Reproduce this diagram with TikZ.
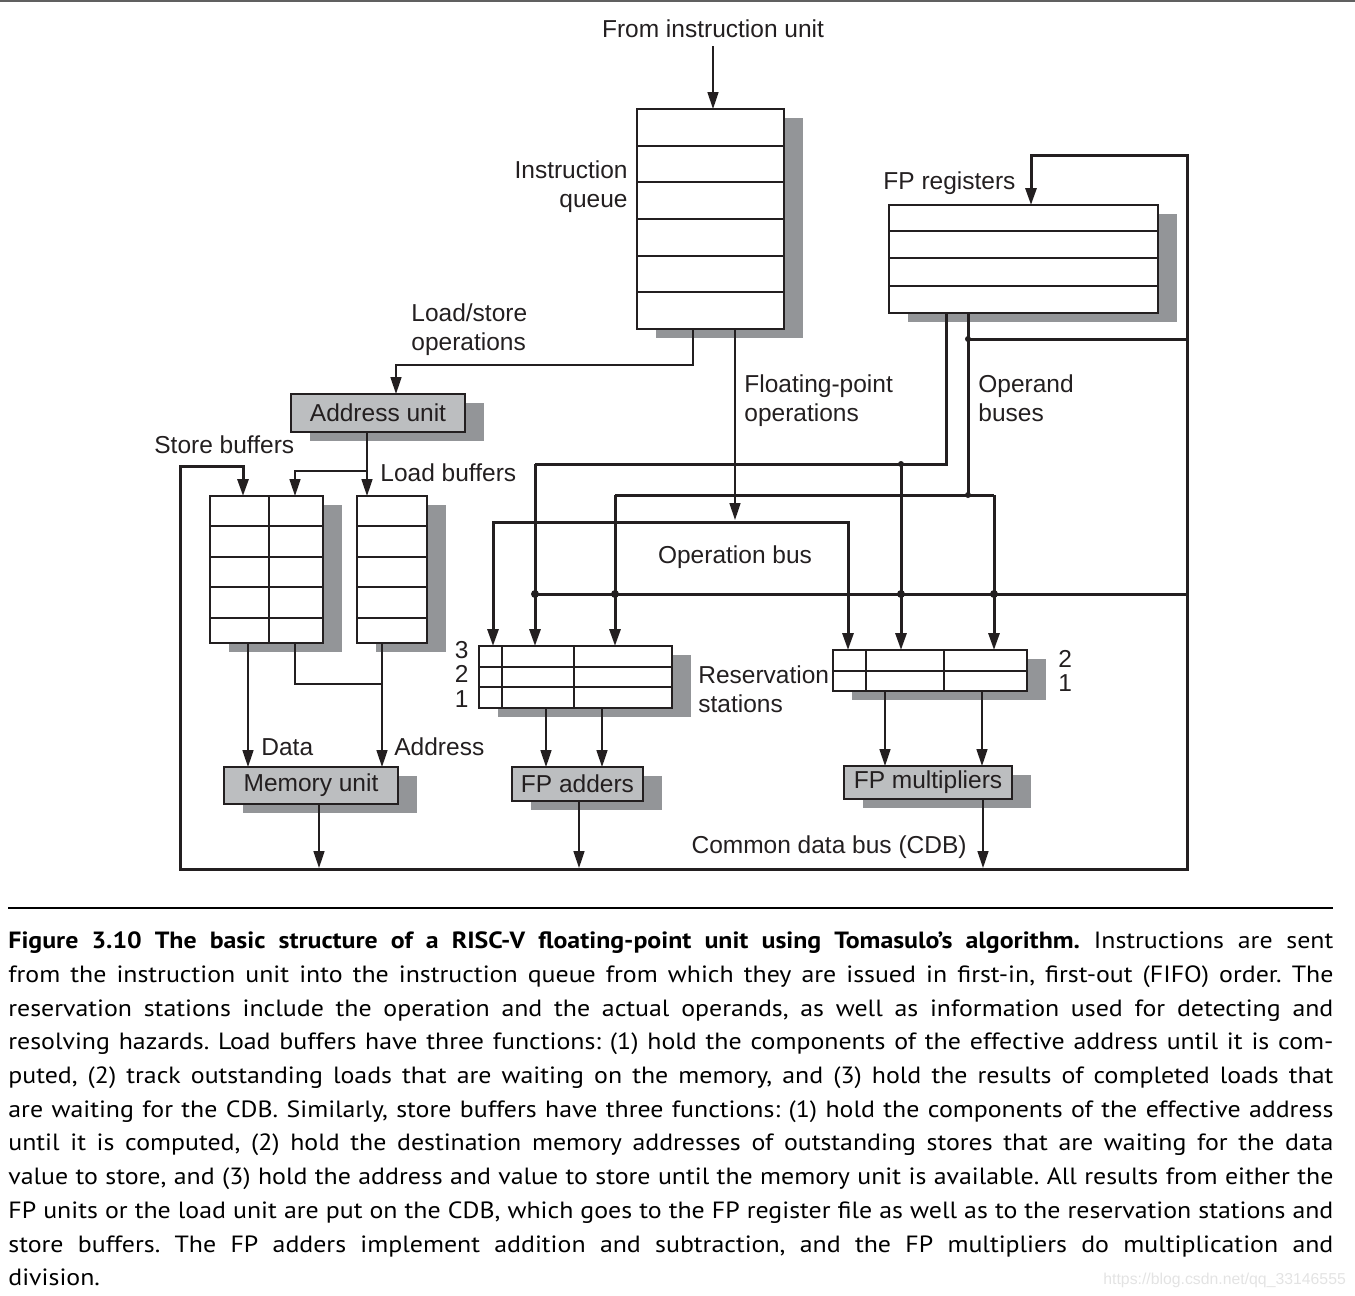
\documentclass[tikz,border=0pt]{standalone}
\usepackage{fontspec}
\setmainfont{Liberation Sans}
\newfontfamily\capfont[FakeStretch=1.1]{PT Sans}
\usetikzlibrary{arrows.meta,shadows}
\definecolor{ink}{HTML}{231F20}
\definecolor{shade}{HTML}{939598}
\definecolor{unitgray}{HTML}{BCBEC0}
\tikzset{
  tbl/.style={draw=ink, line width=0.9pt, fill=white, inner sep=0pt, outer sep=0pt, anchor=north west,
    drop shadow={opacity=1, fill=shade, shadow xshift=9.25pt, shadow yshift=-4.5pt}},
  unit/.style={tbl, fill=unitgray, font=\fontsize{12.25pt}{14pt}\selectfont, text=ink},
  cell/.style={draw=ink, line width=0.75pt},
  bus/.style={draw=ink, line width=1.5pt},
  wire/.style={draw=ink, line width=0.75pt},
  arr/.style={-{Triangle[length=8.5pt,width=5.5pt]}},
  lbl/.style={font=\fontsize{12.25pt}{14pt}\selectfont, text=ink, inner sep=0pt},
  jdot/.style={circle, fill=ink, inner sep=0pt, minimum size=3pt},
  bigdot/.style={circle, fill=ink, inner sep=0pt, minimum size=4pt}
}
\begin{document}
\begin{tikzpicture}[x=0.5pt, y=-0.5pt]
\useasboundingbox (0,0) rectangle (1355,1296);
\draw[line width=1pt, draw=gray!75!black] (0,1) -- (1355,1);

% ---------- boxes ----------
\node[tbl, minimum width=73.5pt, minimum height=110pt] (iq) at (637,109) {};
\foreach \r in {146,182,219,256,292} \draw[cell] (637,\r) -- (784,\r);

\node[tbl, minimum width=134.5pt, minimum height=54pt] (fpr) at (889,205) {};
\foreach \r in {231,258,286} \draw[cell] (889,\r) -- (1158,\r);

\node[unit, minimum width=87pt, minimum height=19pt] (addr) at (291,394) {Address unit};

\node[tbl, minimum width=56.5pt, minimum height=73.5pt] (sb) at (210,496) {};
\foreach \r in {526,557,587,618} \draw[cell] (210,\r) -- (323,\r);
\draw[cell] (269,496) -- (269,643);

\node[tbl, minimum width=35pt, minimum height=73.5pt] (lb) at (357,496) {};
\foreach \r in {526,557,587,618} \draw[cell] (357,\r) -- (427,\r);

\node[tbl, minimum width=96.5pt, minimum height=31pt] (rsa) at (479,646) {};
\foreach \r in {667,687} \draw[cell] (479,\r) -- (672,\r);
\foreach \c in {502,574} \draw[cell] (\c,646) -- (\c,708);

\node[tbl, minimum width=97pt, minimum height=20.5pt] (rsm) at (833,650) {};
\draw[cell] (833,671) -- (1027,671);
\foreach \c in {866,944} \draw[cell] (\c,650) -- (\c,691);

\node[unit, minimum width=87pt, minimum height=18.5pt] (mem) at (224,767) {Memory unit};
\node[unit, minimum width=65.5pt, minimum height=17pt] (fpa) at (512,767) {FP adders};
\node[unit, minimum width=84pt, minimum height=16.5pt] (fpm) at (844,766) {FP multipliers};

% ---------- labels ----------
\node[lbl, anchor=base] (tfrom) at (713,37) {From instruction unit};
\node[lbl, anchor=base east] (tiq1) at (628,178) {Instruction};
\node[lbl, anchor=base east] (tiq2) at (628,207) {queue};
\node[lbl, anchor=base west] (tls1) at (411,321) {Load/store};
\node[lbl, anchor=base west] (tls2) at (411,350) {operations};
\node[lbl, anchor=base west] (tfp1) at (744,392) {Floating-point};
\node[lbl, anchor=base west] (tfp2) at (744,421) {operations};
\node[lbl, anchor=base west] (top1) at (978,392) {Operand};
\node[lbl, anchor=base west] (top2) at (978,421) {buses};
\node[lbl, anchor=base west] (tfpr) at (883,189) {FP registers};
\node[lbl, anchor=base west] (tsb) at (154,453) {Store buffers};
\node[lbl, anchor=base west] (tlb) at (380,481) {Load buffers};
\node[lbl, anchor=base] (tob) at (735,563) {Operation bus};
\node[lbl, anchor=base west] (trs1) at (698,683) {Reservation};
\node[lbl, anchor=base west] (trs2) at (698,712) {stations};
\node[lbl, anchor=base east] (ta3) at (469,658) {3};
\node[lbl, anchor=base east] (ta2) at (469,682) {2};
\node[lbl, anchor=base east] (ta1) at (469,707) {1};
\node[lbl, anchor=base west] (tm2) at (1058,667) {2};
\node[lbl, anchor=base west] (tm1) at (1058,691) {1};
\node[lbl, anchor=base west] (tdata) at (261,755) {Data};
\node[lbl, anchor=base west] (taddr) at (394,755) {Address};
\node[lbl, anchor=base east] (tcdb) at (967,853) {Common data bus (CDB)};

% ---------- coordinates ----------
\coordinate (iuout) at (713,46);
\coordinate (ls1) at (693,365);
\coordinate (ls2) at (396,365);
\coordinate (fpo) at (735,520);
\coordinate (ob1) at (493,522);
\coordinate (ob2) at (848,522);
\coordinate (b1a) at (946,464);
\coordinate (b1b) at (535,464);
\coordinate (b1j) at (901,464);
\coordinate (b2a) at (968,495);
\coordinate (b2l) at (615,495);
\coordinate (b2r) at (994,495);
\coordinate (cdbA) at (968,339);
\coordinate (cdbAR) at (1187,339);
\coordinate (cdbB) at (535,594);
\coordinate (cdbBR) at (1187,594);
\coordinate (cdbL) at (180,869);
\coordinate (cdbR) at (1187,869);
\coordinate (cdbTR) at (1187,155);
\coordinate (cdbFP) at (1031,155);
\coordinate (cdbS1) at (180,466);
\coordinate (cdbS2) at (243,466);
\coordinate (au1) at (367,471);
\coordinate (au2) at (295,471);
\coordinate (sbd) at (248,700);
\coordinate (sba) at (295,684);
\coordinate (lba) at (382,684);
\coordinate (ra1) at (546,740);
\coordinate (ra2) at (602,740);
\coordinate (rm1) at (885,740);
\coordinate (rm2) at (982,740);
\coordinate (memo) at (319,868);
\coordinate (fpao) at (579,868);
\coordinate (fpmo) at (983,868);

% ---------- thin wires ----------
\draw[wire,arr] (iuout) -- (iq.north -| iuout);
\draw[wire,arr] (iq.south -| ls1) -- (ls1) -- (ls2) -- (addr.north -| ls2);
\draw[wire,arr] (iq.south -| fpo) -- (fpo);
\draw[wire,arr] (addr.south -| au1) -- (lb.north -| au1);
\draw[wire,arr] (au1) -- (au2) -- (sb.north -| au2);
\draw[wire,arr] (sb.south -| sbd) -- (mem.north -| sbd);
\draw[wire] (sb.south -| sba) -- (sba) -- (lba);
\draw[wire,arr] (lb.south -| lba) -- (mem.north -| lba);
\draw[wire,arr] (rsa.south -| ra1) -- (fpa.north -| ra1);
\draw[wire,arr] (rsa.south -| ra2) -- (fpa.north -| ra2);
\draw[wire,arr] (rsm.south -| rm1) -- (fpm.north -| rm1);
\draw[wire,arr] (rsm.south -| rm2) -- (fpm.north -| rm2);
\draw[wire,arr] (mem.south -| memo) -- (memo);
\draw[wire,arr] (fpa.south -| fpao) -- (fpao);
\draw[wire,arr] (fpm.south -| fpmo) -- (fpmo);

% ---------- buses ----------
\draw[bus,{Triangle[length=8.5pt,width=5.5pt]}-{Triangle[length=8.5pt,width=5.5pt]}]
  (rsa.north -| ob1) -- (ob1) -- (ob2) -- (rsm.north -| ob2);
\draw[bus] (fpr.south -| b1a) -- (b1a) -- (b1b);
\draw[bus,arr] (b1b) -- (rsa.north -| b1b);
\draw[bus,arr] (b1j) -- (rsm.north -| b1j);
\draw[bus] (fpr.south -| b2a) -- (b2a);
\draw[bus] (b2l) -- (b2r);
\draw[bus,arr] (b2l) -- (rsa.north -| b2l);
\draw[bus,arr] (b2r) -- (rsm.north -| b2r);
\draw[bus,{Triangle[length=8.5pt,width=5.5pt]}-{Triangle[length=8.5pt,width=5.5pt]}]
  (sb.north -| cdbS2) -- (cdbS2) -- (cdbS1) -- (cdbL) -- (cdbR) -- (cdbTR) -- (cdbFP) -- (fpr.north -| cdbFP);
\draw[bus] (cdbA) -- (cdbAR);
\draw[bus] (cdbB) -- (cdbBR);

% ---------- junction dots ----------
\node[jdot] (d1) at (cdbA) {};
\node[jdot] (d2) at (b1j) {};
\node[jdot] (d3) at (b2a) {};
\node[bigdot] (d4) at (535,594) {};
\node[bigdot] (d5) at (615,594) {};
\node[bigdot] (d6) at (901,594) {};
\node[bigdot] (d7) at (994,594) {};

% ---------- caption ----------
\draw[line width=1pt, draw=black] (8,908) -- (1333,908);
\node[anchor=north west, inner sep=0pt, text width=662.5pt, align=justify, text=black,
      font=\capfont\fontsize{11.75pt}{16.85pt}\selectfont] (caption) at (8,924.7)
{\frenchspacing\hyphenpenalty=10000\tolerance=9999\strut{\bfseries Figure 3.10\hspace{0.55em}The basic structure of a RISC-V floating-point unit using Tomasulo’s algorithm.} Instructions are sent\linebreak
from the instruction unit into the instruction queue from which they are issued in first-in, first-out (FIFO) order. The\linebreak
reservation stations include the operation and the actual operands, as well as information used for detecting and\linebreak
resolving hazards. Load buffers have three functions: (1) hold the components of the effective address until it is com-\linebreak
puted, (2) track outstanding loads that are waiting on the memory, and (3) hold the results of completed loads that\linebreak
are waiting for the CDB. Similarly, store buffers have three functions: (1) hold the components of the effective address\linebreak
until it is computed, (2) hold the destination memory addresses of outstanding stores that are waiting for the data\linebreak
value to store, and (3) hold the address and value to store until the memory unit is available. All results from either the\linebreak
FP units or the load unit are put on the CDB, which goes to the FP register file as well as to the reservation stations and\linebreak
store buffers. The FP adders implement addition and subtraction, and the FP multipliers do multiplication and\linebreak
division.};
\node[anchor=base west, inner sep=0pt, text=gray!22, font=\fontsize{7.9pt}{9pt}\selectfont] (wm) at (1103,1284) {https://blog.csdn.net/qq\_33146555};
\end{tikzpicture}
\end{document}
